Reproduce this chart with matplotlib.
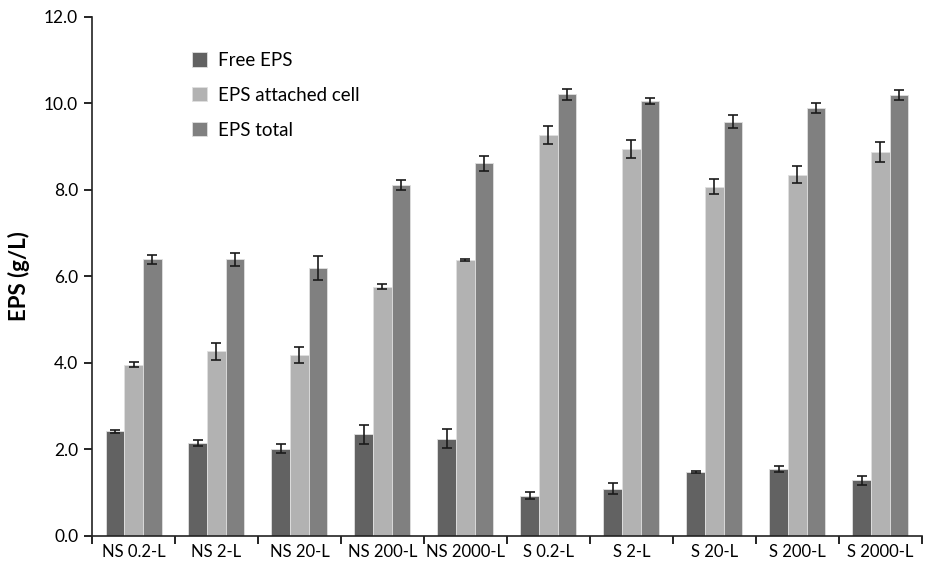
import numpy as np
import matplotlib.pyplot as plt

plt.rcParams['font.family'] = ['Lato', 'DejaVu Sans']

groups = ['NS 0.2-L', 'NS 2-L', 'NS 20-L', 'NS 200-L', 'NS 2000-L',
          'S 0.2-L', 'S 2-L', 'S 20-L', 'S 200-L', 'S 2000-L']
free_eps = [2.42, 2.15, 2.02, 2.35, 2.25, 0.93, 1.09, 1.48, 1.55, 1.29]
free_err = [0.04, 0.07, 0.10, 0.22, 0.22, 0.08, 0.13, 0.02, 0.07, 0.10]
attached_eps = [3.96, 4.27, 4.18, 5.76, 6.38, 9.27, 8.95, 8.08, 8.35, 8.88]
attached_err = [0.06, 0.20, 0.18, 0.06, 0.03, 0.21, 0.21, 0.18, 0.20, 0.24]
total_eps = [6.40, 6.40, 6.20, 8.12, 8.62, 10.21, 10.05, 9.58, 9.90, 10.19]
total_err = [0.10, 0.15, 0.28, 0.12, 0.17, 0.13, 0.07, 0.15, 0.12, 0.12]

series = [('Free EPS', free_eps, free_err, '#626262'),
          ('EPS attached cell', attached_eps, attached_err, '#b2b2b2'),
          ('EPS total', total_eps, total_err, '#808080')]

fig = plt.figure(figsize=(9.25, 5.71), dpi=100)
ax = fig.add_axes([0.0995, 0.0613, 0.897, 0.909])

x = np.arange(len(groups))
w = 0.225
for i, (name, vals, errs, col) in enumerate(series):
    ax.bar(x + (i - 1) * w, vals, w, color=col, edgecolor='#e0e0e0',
           linewidth=0.6, label=name, zorder=2)
    ax.errorbar(x + (i - 1) * w, vals, yerr=errs, fmt='none', ecolor='#1a1a1a',
                elinewidth=1.2, capsize=3.5, capthick=1.2, zorder=3)

ax.set_xlim(-0.5, len(groups) - 0.5)
ax.set_ylim(0, 12)
ax.set_yticks(np.arange(0, 12.1, 2))
ax.set_yticklabels(['{:.1f}'.format(v) for v in np.arange(0, 12.1, 2)], fontsize=12.5)
ax.set_xticks(x)
ax.set_xticklabels(groups, fontsize=12)
ax.tick_params(axis='x', length=0, pad=6)
ax.set_xticks(np.arange(-0.5, len(groups), 1), minor=True)
ax.tick_params(axis='x', which='minor', length=6, width=1.2, direction='out')
ax.tick_params(axis='y', length=6, width=1.2, direction='out', pad=4)
for s in ['top', 'right']:
    ax.spines[s].set_visible(False)
for s in ['left', 'bottom']:
    ax.spines[s].set_linewidth(1.2)
    ax.spines[s].set_color('#222222')

ax.set_ylabel('EPS (g/L)', fontsize=16, fontweight='bold', labelpad=10)

ax.legend(loc='upper left', bbox_to_anchor=(0.1, 0.965), frameon=False,
          fontsize=13.5, handlelength=0.8, handleheight=0.8,
          labelspacing=0.95, handletextpad=0.6)

plt.savefig('out.png', dpi=100)
